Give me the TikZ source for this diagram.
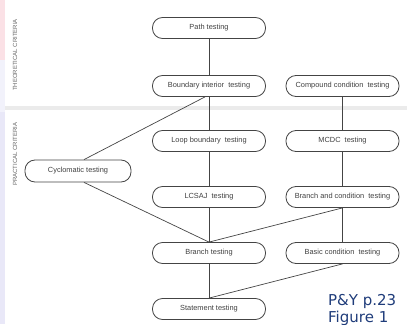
\documentclass[tikz,border=0pt]{standalone}
\usepackage{fontspec}
\setmainfont{Liberation Sans}
\newfontfamily\notefont{DejaVu Sans}

\definecolor{stripred}{HTML}{FBE1E6}
\definecolor{stripblue}{HTML}{F2F2FB}
\definecolor{striplav}{HTML}{E9E8F8}
\definecolor{bandgray}{HTML}{EBEBEB}
\definecolor{notecol}{HTML}{1F3C7A}
\definecolor{boxline}{HTML}{444444}

\begin{document}
\begin{tikzpicture}[x=1pt,y=-1pt,
    crit/.style={draw=boxline,line width=0.8pt,rounded corners=10pt,
      minimum width=113pt,minimum height=21pt,inner sep=1pt,
      font=\fontsize{7.4}{8}\selectfont,text=black!75},
    link/.style={draw=boxline,line width=0.7pt},
    side/.style={rotate=90,font=\fontsize{6}{7}\selectfont,text=black!60}]
            \def\xl{209}
            \def\xr{342.5}

            \useasboundingbox (0,0) rectangle (407,324);

            % background
            \fill[stripred] (0,0) rectangle (5,60);
            \fill[stripblue] (0,60) rectangle (5,112);
            \fill[striplav] (0,112) rectangle (5,324);
            \fill[bandgray] (5,106) rectangle (407,110);

            \node[side] (theo) at (15,55) {THEORETICAL CRITERIA};
            \node[side] (prac) at (15,154) {PRACTICAL CRITERIA};

            % left column
            \node[crit] (path) at (\xl,28) {Path testing};
            \node[crit] (bint) at (\xl,86) {Boundary interior\ \ testing};
            \node[crit] (loopb) at (\xl,141) {Loop boundary\ \ testing};
            \node[crit] (lcsaj) at (\xl,197) {LCSAJ\ \ testing};
            \node[crit] (branch) at (\xl,253) {Branch testing};
            \node[crit] (stmt) at (\xl,309) {Statement testing};

            % right column
            \node[crit] (comp) at (\xr,86) {Compound condition\ \ testing};
            \node[crit] (mcdc) at (\xr,141) {MCDC\ \ testing};
            \node[crit] (bcond) at (\xr,197) {Branch and condition\ \ testing};
            \node[crit] (basic) at (\xr,253) {Basic condition\ \ testing};

            \node[crit,minimum width=106pt,minimum height=22pt] (cyclo) at (78,171) {Cyclomatic testing};

            \draw[link] (path) -- (bint);
            \draw[link] (bint) -- (loopb);
            \draw[link] (loopb) -- (lcsaj);
            \draw[link] (lcsaj) -- (branch);
            \draw[link] (branch) -- (stmt);

            \draw[link] (comp) -- (mcdc);
            \draw[link] (mcdc) -- (bcond);
            \draw[link] (bcond) -- (basic);

            \draw[link] ([xshift=6pt]cyclo.north) -- ([xshift=-4pt]bint.south);
            \draw[link] ([xshift=6pt]cyclo.south) -- (branch.north);
            \draw[link] (bcond.south) -- (branch.north);
            \draw[link] (basic.south) -- (stmt.north);

            \node[anchor=base west,font=\notefont\fontsize{15}{17}\selectfont,text=notecol,inner sep=0pt] (ref) at (328,305) {P\&Y p.23};
            \node[anchor=base west,font=\notefont\fontsize{15}{17}\selectfont,text=notecol,inner sep=0pt] (fig) at (328,322) {Figure 1};
        \end{tikzpicture}
\end{document}
